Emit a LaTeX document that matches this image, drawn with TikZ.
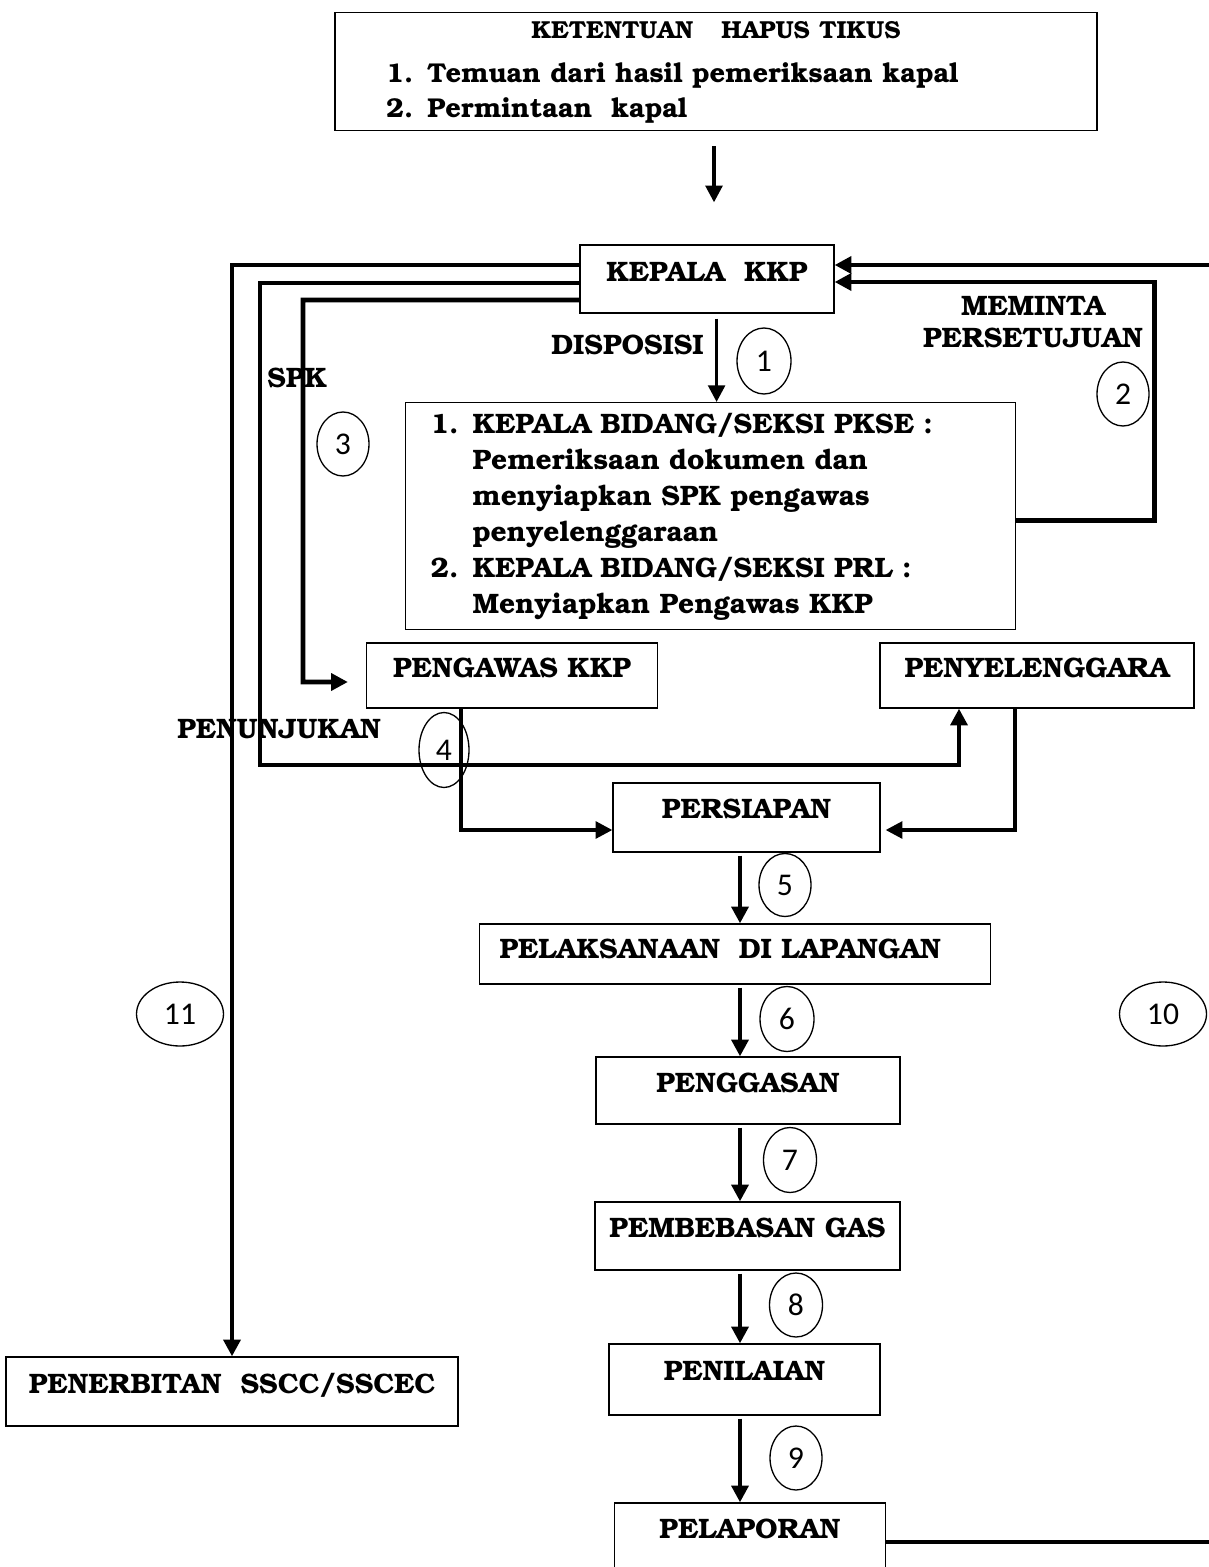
\documentclass[tikz,border=0pt]{standalone}
\usepackage[T1]{fontenc}
\usepackage{fontspec}
\newfontfamily\numfont{Carlito}
\newcommand\bkfont{\fontencoding{T1}\fontfamily{pbk}\fontseries{db}\fontshape{n}\fontsize{16}{19.5}\selectfont}
\usetikzlibrary{arrows.meta,positioning,calc,shapes.geometric}

\begin{document}
\begin{tikzpicture}[x=0.02cm,y=-0.02cm,
    >={Triangle[length=9.5pt,width=9.5pt]},
    box/.style={draw,line width=0.75pt,inner xsep=0pt,inner ysep=0pt,font=\bkfont},
    lbl/.style={inner sep=0pt,font=\bkfont},
    num/.style={draw,ellipse,line width=0.75pt,inner sep=0pt,font=\numfont\fontsize{18}{20}\selectfont},
    conn/.style={line width=2.6pt},
    thinconn/.style={line width=2pt}]
        \clip (0,0) rectangle (1209,1567);

        % boxes
        \node[box,anchor=north,minimum width=15.24cm,minimum height=2.36cm,text width=13.2cm,align=left] (ketentuan) at (716,12)
            {\makebox[\hsize]{\fontsize{14}{19.5}\selectfont KETENTUAN\ \ \ HAPUS TIKUS}\\[6pt]%
             \fontsize{15.5}{19.5}\selectfont 1. Temuan dari hasil pemeriksaan kapal\\2. Permintaan\ \ kapal};
        \node[box,anchor=base,minimum width=5.08cm,text height=0.74cm,text depth=0.62cm] (kepala) at (707,282) {KEPALA\ \ KKP};
        \node[box,anchor=north west,minimum width=12.2cm,minimum height=4.54cm,text width=11.2cm,inner xsep=0.5cm,align=left] (bidang) at (405,402)
            {\renewcommand{\arraystretch}{1.05}%
             \begin{tabular}{@{}p{0.84cm}@{}l@{}}
                1. & KEPALA BIDANG/SEKSI PKSE :\\
                   & Pemeriksaan dokumen dan\\
                   & menyiapkan SPK pengawas\\
                   & penyelenggaraan\\
                2. & KEPALA BIDANG/SEKSI PRL :\\
                   & Menyiapkan Pengawas KKP
            \end{tabular}};
        \node[box,anchor=base,minimum width=5.82cm,text height=0.68cm,text depth=0.62cm] (pengawas) at (512,677) {PENGAWAS KKP};
        \node[box,anchor=base,minimum width=6.28cm,text height=0.68cm,text depth=0.62cm] (penyelenggara) at (1037,677) {PENYELENGGARA};
        \node[box,anchor=base,minimum width=5.34cm,text height=0.70cm,text depth=0.68cm] (persiapan) at (746.5,818) {PERSIAPAN};
        \node[box,anchor=base west,text width=9.42cm,inner xsep=0.4cm,align=left,text height=0.68cm,text depth=0.52cm] (pelaksanaan) at (479,958) {PELAKSANAAN\ \ DI LAPANGAN};
        \node[box,anchor=base,minimum width=6.08cm,text height=0.70cm,text depth=0.64cm] (penggasan) at (748,1092) {PENGGASAN};
        \node[box,anchor=base,minimum width=6.10cm,text height=0.70cm,text depth=0.66cm] (pembebasan) at (747.5,1237) {PEMBEBASAN GAS};
        \node[box,anchor=base,minimum width=5.42cm,text height=0.72cm,text depth=0.70cm] (penilaian) at (744.5,1380) {PENILAIAN};
        \node[box,anchor=base,minimum width=5.42cm,text height=0.70cm,text depth=1.24cm] (pelaporan) at (750,1538) {PELAPORAN};
        \node[box,anchor=base,minimum width=9.04cm,text height=0.72cm,text depth=0.66cm] (penerbitan) at (232,1393) {PENERBITAN\ \ SSCC/SSCEC};

        % labels
        \node[lbl,anchor=base east] (disposisi) at (704,355) {DISPOSISI};
        \node[lbl,anchor=north,align=center] (meminta) at (1033,296) {MEMINTA\\[-1pt]PERSETUJUAN};
        \node[lbl,anchor=base west] (spk) at (267,388) {SPK};
        \node[lbl,anchor=base west] (penunjukan) at (177,738) {PENUNJUKAN};

        % numbers
        \node[num,minimum width=1.08cm,minimum height=1.32cm] (n1) at (764,361) {1};
        \node[num,minimum width=1.04cm,minimum height=1.28cm] (n2) at (1123,394) {2};
        \node[num,minimum width=1.04cm,minimum height=1.28cm] (n3) at (343,444) {3};
        \node[num,minimum width=1.0cm,minimum height=1.5cm] (n4) at (444,750) {4};
        \node[num,minimum width=1.04cm,minimum height=1.26cm] (n5) at (785,885) {5};
        \node[num,minimum width=1.08cm,minimum height=1.30cm] (n6) at (787,1019) {6};
        \node[num,minimum width=1.06cm,minimum height=1.30cm] (n7) at (790,1160) {7};
        \node[num,minimum width=1.06cm,minimum height=1.28cm] (n8) at (796,1305) {8};
        \node[num,minimum width=1.04cm,minimum height=1.28cm] (n9) at (796,1458) {9};
        \node[num,minimum width=1.74cm,minimum height=1.28cm] (n10) at (1163,1014) {10};
        \node[num,minimum width=1.74cm,minimum height=1.28cm] (n11) at (180,1014) {11};

        % connectors
        \coordinate (pnj) at (260,765);
        \coordinate (spkc) at (303,682);
        \coordinate (col) at (740,0);
        \draw[thinconn,->] ($(ketentuan.south)+(-2,15)$) -- ($(kepala.north)+(7,-42)$);
        \draw[conn,->] ($(kepala.west)+(0,-14)$) -| (penerbitan.north);
        \draw[conn,->] ($(kepala.west)+(0,4)$) -| (pnj) -| ($(penyelenggara.south)+(-78,0)$);
        \draw[conn,->] ($(kepala.west)+(0,21)$) -| (spkc) -- ($(pengawas.west)+(-18,6.5)$);
        \draw[thinconn,->] ([xshift=0.12cm,yshift=-0.1cm]bidang.north |- kepala.south) -- ([xshift=0.12cm]bidang.north);
        \draw[conn,->] ($(bidang.east)+(0,4.5)$) -| ($(kepala.east)+(320,3)$) -- ($(kepala.east)+(0,3)$);
        \draw[conn,->] ($(pelaporan.east)+(0,-9.5)$) -- ++(420,0) |- ($(kepala.east)+(0,-14)$);
        \draw[thinconn,->] ($(pengawas.south)+(-51,0)$) |- ($(persiapan.west)+(0,12.5)$);
        \draw[thinconn,->] ($(penyelenggara.south)+(-22,0)$) |- ($(persiapan.east)+(5,12.5)$);
        \draw[conn,->] ([yshift=-0.06cm]persiapan.south -| col) -- (pelaksanaan.north -| col);
        \draw[conn,->] ([yshift=-0.06cm]pelaksanaan.south -| col) -- (penggasan.north -| col);
        \draw[conn,->] ([yshift=-0.06cm]penggasan.south -| col) -- (pembebasan.north -| col);
        \draw[conn,->] ([yshift=-0.06cm]pembebasan.south -| col) -- (penilaian.north -| col);
        \draw[conn,->] ([yshift=-0.06cm]penilaian.south -| col) -- (pelaporan.north -| col);
\end{tikzpicture}
\end{document}
